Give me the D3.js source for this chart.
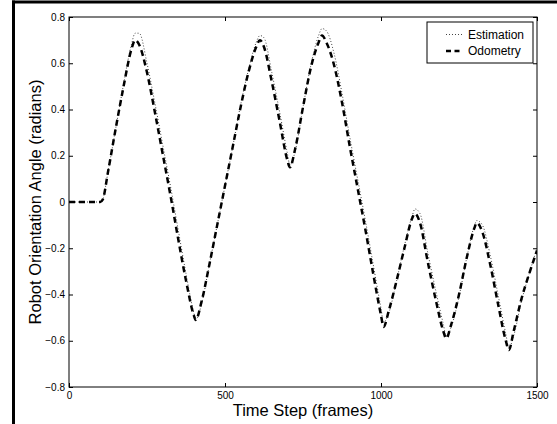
<!DOCTYPE html>
<html>
<head>
<meta charset="utf-8">
<script src="https://cdn.jsdelivr.net/npm/d3@7"></script>
<style>
  html, body { margin: 0; padding: 0; background: #fff; }
  svg { display: block; }
  text { font-family: "Liberation Sans", Arial, Helvetica, sans-serif; fill: #000; }
</style>
</head>
<body>
<svg id="chart" width="557" height="424"></svg>
<script>
// ---- data ----
const frames = [0,50,100,108,125,150,175,200,212,225,250,275,300,325,350,375,400,406,425,450,475,500,525,550,575,600,612,625,650,675,700,708,725,750,775,800,811,825,850,875,900,925,950,975,1000,1008,1025,1050,1075,1100,1109,1125,1150,1175,1200,1209,1225,1250,1275,1300,1307,1325,1350,1375,1400,1410,1425,1450,1475,1500];
const odometry = [0,0,0,0.01,0.13,0.32,0.50,0.66,0.70,0.68,0.56,0.39,0.21,0.03,-0.16,-0.34,-0.49,-0.51,-0.43,-0.27,-0.10,0.07,0.24,0.41,0.56,0.67,0.70,0.67,0.52,0.35,0.18,0.15,0.23,0.41,0.58,0.69,0.72,0.69,0.59,0.43,0.24,0.06,-0.12,-0.31,-0.49,-0.54,-0.47,-0.34,-0.20,-0.07,-0.05,-0.09,-0.26,-0.42,-0.56,-0.59,-0.53,-0.40,-0.24,-0.11,-0.09,-0.13,-0.27,-0.44,-0.60,-0.64,-0.56,-0.42,-0.31,-0.21];
const estimation = [0,0,0,0.01,0.13,0.32,0.51,0.68,0.73,0.73,0.60,0.43,0.25,0.07,-0.12,-0.31,-0.48,-0.51,-0.44,-0.27,-0.10,0.07,0.24,0.42,0.57,0.69,0.72,0.71,0.56,0.39,0.21,0.16,0.22,0.41,0.59,0.72,0.75,0.74,0.64,0.47,0.28,0.10,-0.08,-0.27,-0.46,-0.52,-0.48,-0.34,-0.19,-0.06,-0.03,-0.05,-0.22,-0.38,-0.53,-0.58,-0.54,-0.41,-0.24,-0.10,-0.08,-0.10,-0.23,-0.40,-0.57,-0.63,-0.58,-0.43,-0.31,-0.20];
const xTicks = [0, 500, 1000, 1500];
const xTickLabels = ["0", "500", "1000", "1500"];
const yTicks = [-0.8, -0.6, -0.4, -0.2, 0, 0.2, 0.4, 0.6, 0.8];
const yTickLabels = ["\u22120.8", "\u22120.6", "\u22120.4", "\u22120.2", "0", "0.2", "0.4", "0.6", "0.8"];
const seriesNames = ["Estimation", "Odometry"];
const xLabel = "Time Step (frames)";
const yLabel = "Robot Orientation Angle (radians)";

// ---- layout ----
const svg = d3.select("#chart");
const L = 69, R = 537, T = 17, B = 387;
const x = d3.scaleLinear().domain([0, 1500]).range([L, R]);
const y = d3.scaleLinear().domain([-0.8, 0.8]).range([B, T]);

// outer frame (thick lines at left/top)
svg.append("line").attr("x1", 13.5).attr("x2", 13.5).attr("y1", 0.5).attr("y2", 424)
  .attr("stroke", "#000").attr("stroke-width", 3);
svg.append("line").attr("x1", 12).attr("x2", 557).attr("y1", 2).attr("y2", 2)
  .attr("stroke", "#000").attr("stroke-width", 3);

svg.append("defs").append("clipPath").attr("id", "clip")
  .append("rect").attr("x", L).attr("y", T - 6).attr("width", R - L).attr("height", B - T + 12);

// axes
const fmtX = d => xTickLabels[xTicks.indexOf(d)];
const fmtY = d => yTickLabels[yTicks.findIndex(v => Math.abs(v - d) < 1e-9)];

const gB = svg.append("g").attr("transform", `translate(0,${B})`)
  .call(d3.axisBottom(x).tickValues(xTicks).tickFormat(fmtX).tickSizeInner(-4).tickSizeOuter(0).tickPadding(5));
const gL = svg.append("g").attr("transform", `translate(${L},0)`)
  .call(d3.axisLeft(y).tickValues(yTicks).tickFormat(fmtY).tickSizeInner(-4).tickSizeOuter(0).tickPadding(4));
const gT = svg.append("g").attr("transform", `translate(0,${T})`)
  .call(d3.axisTop(x).tickValues(xTicks).tickFormat("").tickSizeInner(-4).tickSizeOuter(0));
const gR = svg.append("g").attr("transform", `translate(${R},0)`)
  .call(d3.axisRight(y).tickValues(yTicks).tickFormat("").tickSizeInner(-4).tickSizeOuter(0));
[gB, gL, gT, gR].forEach(g => {
  g.select(".domain").remove();
  g.selectAll(".tick line").attr("stroke", "#000").attr("stroke-width", 1);
  g.selectAll(".tick text").attr("font-size", 10).attr("fill", "#000")
    .style("font-family", '"Liberation Sans", Arial, sans-serif');
});

// plot box
svg.append("rect").attr("x", L).attr("y", T).attr("width", R - L).attr("height", B - T)
  .attr("fill", "none").attr("stroke", "#000").attr("stroke-width", 1);

// lines
const mk = vals => d3.line().x((d, i) => x(frames[i])).y((d, i) => y(vals[i])).curve(d3.curveMonotoneX);
const plot = svg.append("g").attr("clip-path", "url(#clip)");
plot.append("path").datum(estimation).attr("d", mk(estimation)(estimation))
  .attr("fill", "none").attr("stroke", "#444").attr("stroke-width", 1)
  .attr("stroke-dasharray", "1,2");
plot.append("path").datum(odometry).attr("d", mk(odometry)(odometry))
  .attr("fill", "none").attr("stroke", "#000").attr("stroke-width", 2.5)
  .attr("stroke-dasharray", "6,4");

// axis labels
svg.append("text").attr("x", (L + R) / 2).attr("y", 416).attr("text-anchor", "middle")
  .attr("font-size", 16.5).text(xLabel);
svg.append("text").attr("transform", `translate(41,${(T + B) / 2}) rotate(-90)`)
  .attr("text-anchor", "middle").attr("font-size", 16.5).text(yLabel);

// legend
const lg = svg.append("g");
lg.append("rect").attr("x", 427).attr("y", 22).attr("width", 106).attr("height", 41)
  .attr("fill", "#fff").attr("stroke", "#000").attr("stroke-width", 1);
const rows = [
  {name: seriesNames[0], yy: 34.5, stroke: "#444", w: 1, dash: "1,2"},
  {name: seriesNames[1], yy: 51, stroke: "#000", w: 2.5, dash: "5,3.5"}
];
rows.forEach(r => {
  lg.append("line").attr("x1", 446).attr("x2", 463).attr("y1", r.yy).attr("y2", r.yy)
    .attr("stroke", r.stroke).attr("stroke-width", r.w).attr("stroke-dasharray", r.dash);
  lg.append("text").attr("x", 468).attr("y", r.yy).attr("dy", "0.36em")
    .attr("font-size", 12).text(r.name);
});
</script>
</body>
</html>
